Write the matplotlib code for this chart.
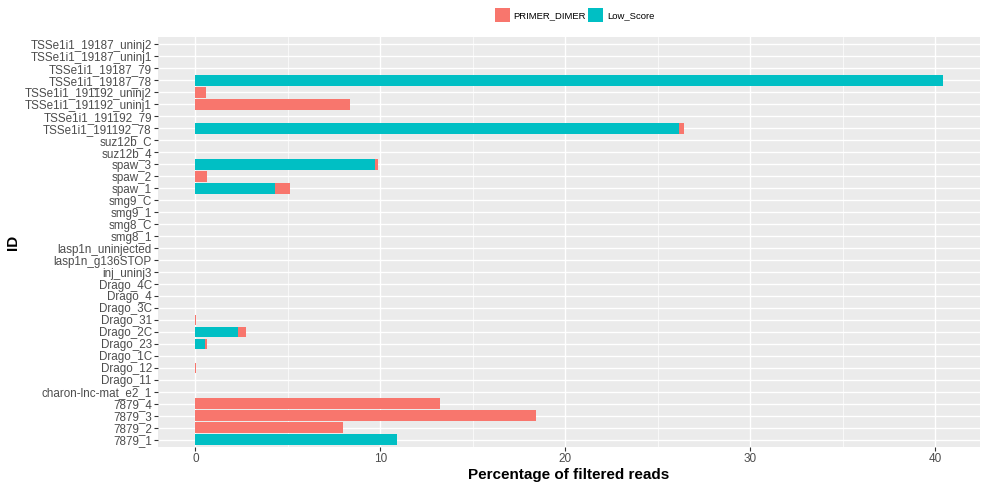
import matplotlib
matplotlib.use("Agg")
import matplotlib.pyplot as plt
import numpy as np
from matplotlib.patches import Patch

plt.rcParams['font.family'] = ['Liberation Sans', 'DejaVu Sans']

# Sample IDs, listed top to bottom as displayed
ids = [
    "TSSe1i1_19187_uninj2", "TSSe1i1_19187_uninj1", "TSSe1i1_19187_79", "TSSe1i1_19187_78",
    "TSSe1i1_191192_uninj2", "TSSe1i1_191192_uninj1", "TSSe1i1_191192_79", "TSSe1i1_191192_78",
    "suz12b_C", "suz12b_4", "spaw_3", "spaw_2", "spaw_1",
    "smg9_C", "smg9_1", "smg8_C", "smg8_1",
    "lasp1n_uninjected", "lasp1n_g136STOP", "inj_uninj3",
    "Drago_4C", "Drago_4", "Drago_3C", "Drago_31", "Drago_2C", "Drago_23",
    "Drago_1C", "Drago_12", "Drago_11", "charon-lnc-mat_e2_1",
    "7879_4", "7879_3", "7879_2", "7879_1",
]

# Percentage of filtered reads per reason
low_score = [
    0, 0, 0, 40.4,
    0, 0, 0, 26.15,
    0, 0, 9.73, 0, 4.3,
    0, 0, 0, 0,
    0, 0, 0,
    0, 0, 0, 0, 2.28, 0.5,
    0, 0, 0, 0,
    0, 0, 0, 10.9,
]
primer_dimer = [
    0, 0, 0, 0,
    0.55, 8.35, 0, 0.27,
    0, 0, 0.13, 0.6, 0.82,
    0, 0, 0, 0,
    0, 0, 0,
    0, 0, 0, 0.04, 0.45, 0.12,
    0, 0.04, 0, 0,
    13.2, 18.4, 8.0, 0,
]

x_ticks = [0, 10, 20, 30, 40]

RED = "#F8766D"
TEAL = "#00BFC4"

fig = plt.figure(figsize=(9.82, 4.84), dpi=100)
ax = fig.add_axes([0.161, 0.0764, 0.837, 0.847])

n = len(ids)
ypos = np.arange(n)[::-1]
low = np.array(low_score)
pd_ = np.array(primer_dimer)

ax.barh(ypos, low, height=0.9, color=TEAL, linewidth=0, zorder=3)
ax.barh(ypos, pd_, left=low, height=0.9, color=RED, linewidth=0, zorder=3)

total_max = (low + pd_).max()
pad = total_max * 0.05
ax.set_xlim(-pad, total_max + pad)
ax.set_ylim(-0.6, n - 1 + 0.6)

ax.set_facecolor("#EBEBEB")
for s in ax.spines.values():
    s.set_visible(False)

ax.set_xticks(x_ticks)
ax.set_xticks([5, 15, 25, 35], minor=True)
ax.set_yticks(ypos)
ax.set_yticklabels(ids)
ax.grid(which="major", color="white", linewidth=1.0, zorder=0)
ax.grid(which="minor", axis="x", color="white", linewidth=0.5, zorder=0)
ax.set_axisbelow(True)
ax.tick_params(axis="both", which="major", length=3, width=0.8, color="#333333",
               labelcolor="#4D4D4D", pad=1.5)
ax.tick_params(axis="y", which="major", labelsize=8.4)
ax.tick_params(axis="x", which="major", labelsize=8.5)
ax.tick_params(axis="both", which="minor", length=0)

ax.set_xlabel("Percentage of filtered reads", fontsize=11, fontweight="bold", labelpad=2)
ax.set_ylabel("ID", fontsize=11, fontweight="bold")
ax.yaxis.set_label_coords(-0.168, 0.5)

handles = [Patch(facecolor=RED, edgecolor="none", label="PRIMER_DIMER"),
           Patch(facecolor=TEAL, edgecolor="none", label="Low_Score")]
fig.legend(handles=handles, loc="upper center", bbox_to_anchor=(0.585, 1.0), ncol=2,
           frameon=False, fontsize=6.8, handlelength=1.6, handleheight=2.0,
           handletextpad=0.4, columnspacing=0.2, borderpad=0.3)

fig.savefig("out.png", dpi=100)
